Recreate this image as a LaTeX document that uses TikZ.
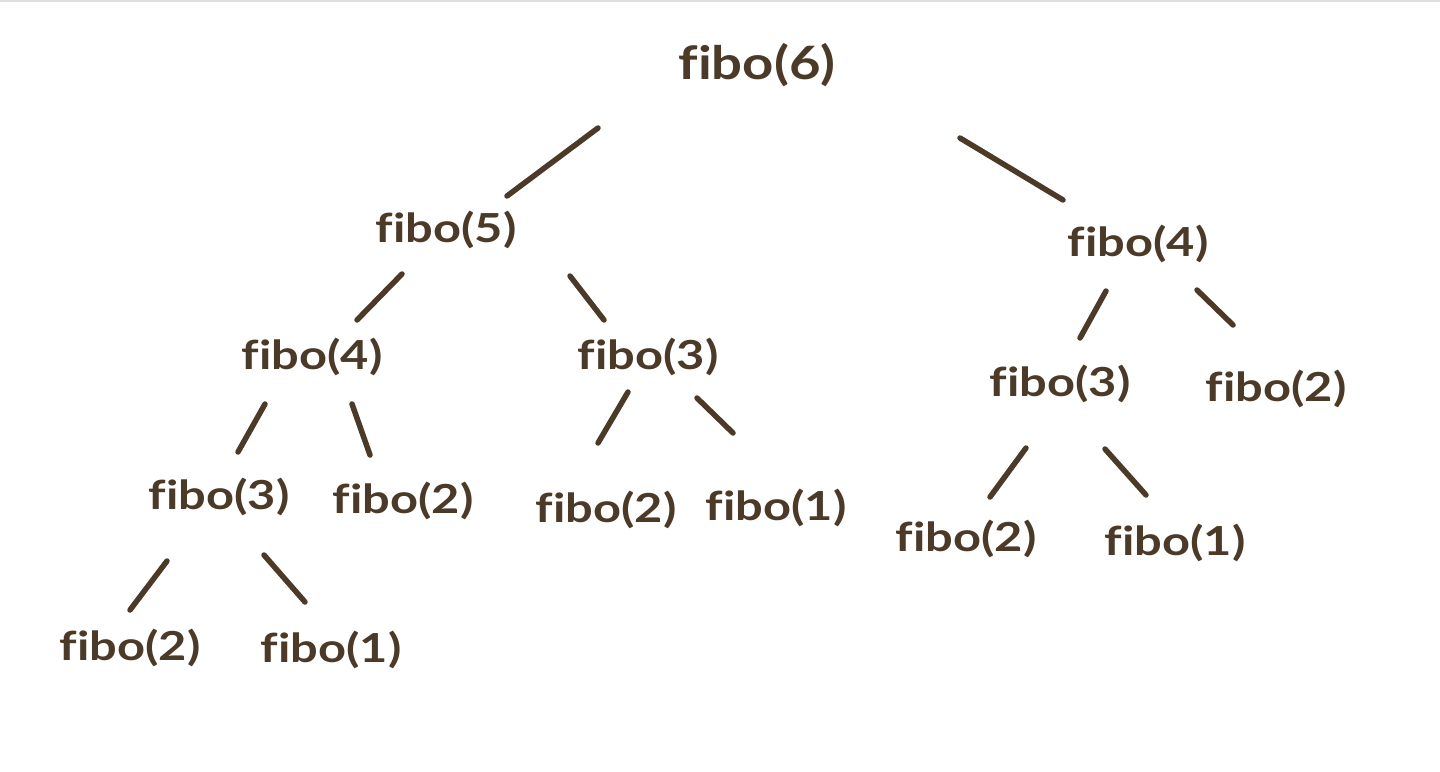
\documentclass[tikz,border=0pt]{standalone}
\usepackage{fontspec}
\setmainfont[Ligatures=NoCommon]{Lato}
\usetikzlibrary{calc}
\definecolor{ink}{HTML}{4B3A28}
\begin{document}
\begin{tikzpicture}[x=1pt,y=-1pt,
  lbl/.style={text=ink,inner sep=0pt,font=\fontsize{40}{40}\selectfont\bfseries,transform shape,xscale=1.22},
  toplbl/.style={lbl,font=\fontsize{46}{46}\selectfont\bfseries,xscale=0.97},
  edge/.style={draw=ink,line width=5.5pt,line cap=round}]
\fill[white] (0,0) rectangle (1440,771);
\useasboundingbox (0,0) rectangle (1440,771);
\draw[gray!25,line width=2pt] (0,1) -- (1440,1);
\node[toplbl] (f6) at (757,65) {fibo(6)};
\node[lbl] (f5) at (446,230) {fibo(5)};
\node[lbl] (g4) at (1138,244) {fibo(4)};
\node[lbl] (a4) at (312,357) {fibo(4)};
\node[lbl] (a3) at (648,357) {fibo(3)};
\node[lbl] (b3) at (1060,384) {fibo(3)};
\node[lbl] (b2) at (1276,389) {fibo(2)};
\node[lbl] (c3) at (219,497) {fibo(3)};
\node[lbl] (c2) at (403,501) {fibo(2)};
\node[lbl] (d2) at (606,510) {fibo(2)};
\node[lbl] (d1) at (776,508) {fibo(1)};
\node[lbl] (e2) at (966,539) {fibo(2)};
\node[lbl] (e1) at (1175,543) {fibo(1)};
\node[lbl] (h2) at (130,648) {fibo(2)};
\node[lbl] (h1) at (331,650) {fibo(1)};
\draw[edge] ($(f6)+(-159,63)$) -- ($(f5)+(61,-34)$);
\draw[edge] ($(f6)+(203,73)$) -- ($(g4)+(-75,-44)$);
\draw[edge] ($(f5)+(-44,44)$) -- ($(a4)+(45,-37)$);
\draw[edge] ($(f5)+(124,46)$) -- ($(a3)+(-44,-37)$);
\draw[edge] ($(g4)+(-32,47)$) -- ($(b3)+(20,-46)$);
\draw[edge] ($(g4)+(59,46)$) -- ($(b2)+(-43,-64)$);
\draw[edge] ($(a4)+(-47,47)$) -- ($(c3)+(19,-45)$);
\draw[edge] ($(a4)+(40,47)$) -- ($(c2)+(-33,-46)$);
\draw[edge] ($(a3)+(-20,35)$) -- ($(d2)+(-8,-67)$);
\draw[edge] ($(a3)+(49,41)$) -- ($(d1)+(-43,-75)$);
\draw[edge] ($(b3)+(-34,64)$) -- ($(e2)+(24,-42)$);
\draw[edge] ($(b3)+(45,65)$) -- ($(e1)+(-29,-48)$);
\draw[edge] ($(c3)+(-52,64)$) -- ($(h2)+(0,-38)$);
\draw[edge] ($(c3)+(45,58)$) -- ($(h1)+(-26,-48)$);
\end{tikzpicture}
\end{document}
